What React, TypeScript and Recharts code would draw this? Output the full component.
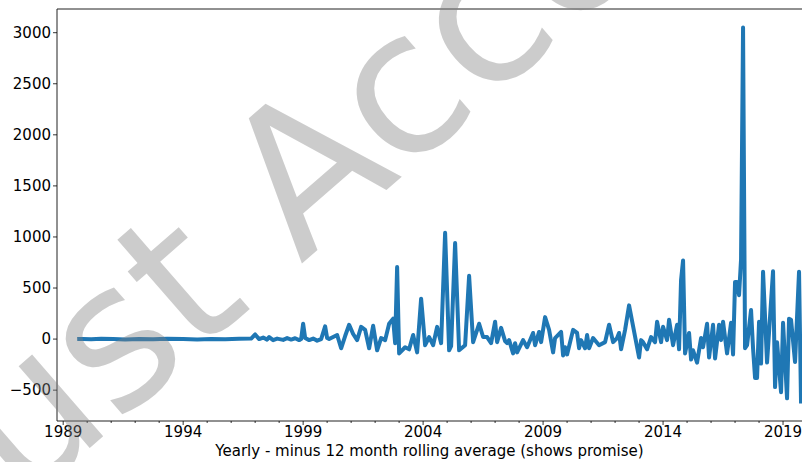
import React from 'react';
import { LineChart, Line, XAxis, YAxis, ReferenceLine } from 'recharts';

// Monthly readings (yearly change minus 12 month rolling average)
const months = [
  '1989-08', '1989-11', '1990-03', '1990-08', '1991-02', '1991-08', '1992-03', '1992-10',
  '1993-05', '1994-01', '1994-08', '1995-03', '1995-10', '1996-05', '1996-11', '1997-01',
  '1997-03', '1997-05', '1997-07', '1997-08', '1997-10', '1997-12', '1998-03', '1998-05',
  '1998-07', '1998-09', '1998-11', '1998-12', '1999-01', '1999-02', '1999-04', '1999-06',
  '1999-08', '1999-10', '1999-12', '2000-01', '2000-02', '2000-04', '2000-06', '2000-08',
  '2000-10', '2000-12', '2001-02', '2001-04', '2001-06', '2001-08', '2001-10', '2001-12',
  '2002-02', '2002-04', '2002-06', '2002-08', '2002-10', '2002-11', '2002-12', '2003-01',
  '2003-04', '2003-06', '2003-08', '2003-10', '2003-12', '2004-02', '2004-04', '2004-06',
  '2004-08', '2004-10', '2004-12', '2005-02', '2005-03', '2005-05', '2005-07', '2005-10',
  '2005-12', '2006-02', '2006-05', '2006-07', '2006-09', '2006-11', '2007-01', '2007-02',
  '2007-04', '2007-06', '2007-07', '2007-08', '2007-10', '2007-11', '2007-12', '2008-03',
  '2008-05', '2008-08', '2008-09', '2008-11', '2008-12', '2009-02', '2009-04', '2009-06',
  '2009-07', '2009-10', '2009-11', '2009-12', '2010-01', '2010-04', '2010-06', '2010-07',
  '2010-08', '2010-10', '2010-11', '2010-12', '2011-02', '2011-05', '2011-08', '2011-10',
  '2011-12', '2012-02', '2012-03', '2012-04', '2012-06', '2012-08', '2013-01', '2013-02',
  '2013-03', '2013-05', '2013-07', '2013-09', '2013-10', '2013-12', '2014-01', '2014-03',
  '2014-04', '2014-06', '2014-08', '2014-09', '2014-10', '2014-11', '2014-12', '2015-02',
  '2015-03', '2015-04', '2015-06', '2015-08', '2015-09', '2015-11', '2015-12', '2016-02',
  '2016-03', '2016-05', '2016-06', '2016-07', '2016-09', '2016-11', '2016-12', '2017-01',
  '2017-02', '2017-03', '2017-04', '2017-05', '2017-06', '2017-07', '2017-09', '2017-10',
  '2017-11', '2017-12', '2018-01', '2018-02', '2018-03', '2018-05', '2018-08', '2018-09',
  '2018-10', '2018-12', '2019-01', '2019-03', '2019-04', '2019-05', '2019-07', '2019-09',
  '2019-10',
];

const values = [
  0, 2, -2, 3, 0, -3, 2, -2,
  3, 0, -3, 2, -2, 3, 5, 45,
  0, 15, -5, 20, -10, 5, -8, 10,
  -5, 8, -10, 0, 150, 10, -10, 5,
  -15, 0, 125, 10, 0, 20, 40, -90,
  30, 140, 50, -10, 120, 90, -90, 130,
  -110, 10, -10, 150, 200, -40, 705, -140,
  -80, -100, 40, -130, 395, -60, 20, -60,
  120, -40, 1040, -110, -70, 940, -110, -60,
  620, -30, 150, 20, 20, -40, 170, -30,
  110, -20, -40, -10, -140, -40, -130, -10,
  -80, 60, -60, 70, -30, 215, 90, -130,
  10, 70, -160, -80, -150, 90, 60, -90,
  -10, -90, 40, -90, 10, -60, -30, 140,
  -30, 10, 60, -100, 90, 330, -180, -10,
  -30, -100, 20, -30, 170, -30, 120, -10,
  190, -60, 140, -100, 580, 770, -140, 60,
  -200, -110, -230, 10, -80, 150, -180, 140,
  -190, 140, -10, 170, -140, 160, -150, 560,
  560, 430, 780, 3050, -90, -60, 285, -90,
  -380, -380, 170, -240, 660, -230, 665, -470,
  -30, -520, 160, -580, 200, 190, -225, 660,
  -630,
];

const majorYears = [1989, 1994, 1999, 2004, 2009, 2014, 2019];
const yTicks = [-500, 0, 500, 1000, 1500, 2000, 2500, 3000];

const allYears: number[] = [];
for (let y = 1989; y <= 2019; y++) allYears.push(y);

const data = months.map((m, i) => {
  const [yr, mo] = m.split('-').map(Number);
  return { t: yr + (mo - 1) / 12, value: values[i] };
});

const FONT = 'DejaVu Sans';
const TICK_SIZE = 4;
const TICK_MARGIN = 1;
const X_DOMAIN: [number, number] = [1988.742, 2019.79];
const Y_DOMAIN: [number, number] = [-802, 3232];

// year ticks: long mark + label every 5 years, short mark otherwise
const YearTick = (props: any) => {
  const { x, y, payload } = props;
  const major = majorYears.includes(payload.value);
  const axisY = y - TICK_SIZE - TICK_MARGIN;
  return (
    <g>
      <line x1={x} x2={x} y1={axisY} y2={axisY + (major ? TICK_SIZE : 2)} stroke="#000" strokeWidth={0.8} />
      {major && (
        <text x={x} y={y} dy="0.71em" textAnchor="middle" fontFamily={FONT} fontSize={15} fill="#000">
          {payload.value}
        </text>
      )}
    </g>
  );
};

export default function App() {
  return (
    <div style={{ position: 'relative', width: 804, height: 462, background: '#fff' }}>
      <style>{'body{margin:0}'}</style>
      <LineChart width={804} height={462} data={data} margin={{ top: 9, right: 2, bottom: 0, left: 0 }}>
        <XAxis
          dataKey="t"
          type="number"
          domain={X_DOMAIN}
          allowDataOverflow
          ticks={allYears}
          interval={0}
          height={41}
          tickSize={TICK_SIZE}
          tickMargin={TICK_MARGIN}
          tickLine={false}
          tick={<YearTick />}
          axisLine={{ stroke: '#222' }}
          label={{
            value: 'Yearly - minus 12 month rolling average (shows promise)',
            position: 'insideBottom',
            offset: 6,
            fill: '#000',
            fontSize: 15,
            fontFamily: FONT,
          }}
        />
        <YAxis
          type="number"
          domain={Y_DOMAIN}
          allowDataOverflow
          ticks={yTicks}
          interval={0}
          width={57}
          tickSize={TICK_SIZE}
          tickMargin={2}
          tickLine={{ stroke: '#000', strokeWidth: 0.8 }}
          axisLine={{ stroke: '#222' }}
          tick={{ fontFamily: FONT, fontSize: 15, fill: '#000' }}
          tickFormatter={(v: number) => String(v).replace('-', '\u2212')}
        />
        <YAxis yAxisId="right" orientation="right" type="number" domain={Y_DOMAIN} width={0} tick={false} tickLine={false} axisLine={{ stroke: '#222' }} />
        {/* top spine */}
        <ReferenceLine y={Y_DOMAIN[1]} stroke="#222" strokeWidth={1} ifOverflow="visible" />
        <Line
          type="linear"
          dataKey="value"
          stroke="#1f77b4"
          strokeWidth={4}
          strokeLinejoin="round"
          dot={false}
          isAnimationActive={false}
        />
      </LineChart>
      {/* watermark drawn over the whole figure */}
      <svg width={804} height={462} style={{ position: 'absolute', left: 0, top: 0, pointerEvents: 'none' }}>
        <text
          x={-22}
          y={545}
          transform="rotate(-41, -22, 545)"
          fontFamily={FONT}
          fontSize={198}
          fill="#808080"
          fillOpacity={0.4}
        >
          Just Accounting
        </text>
      </svg>
    </div>
  );
}
